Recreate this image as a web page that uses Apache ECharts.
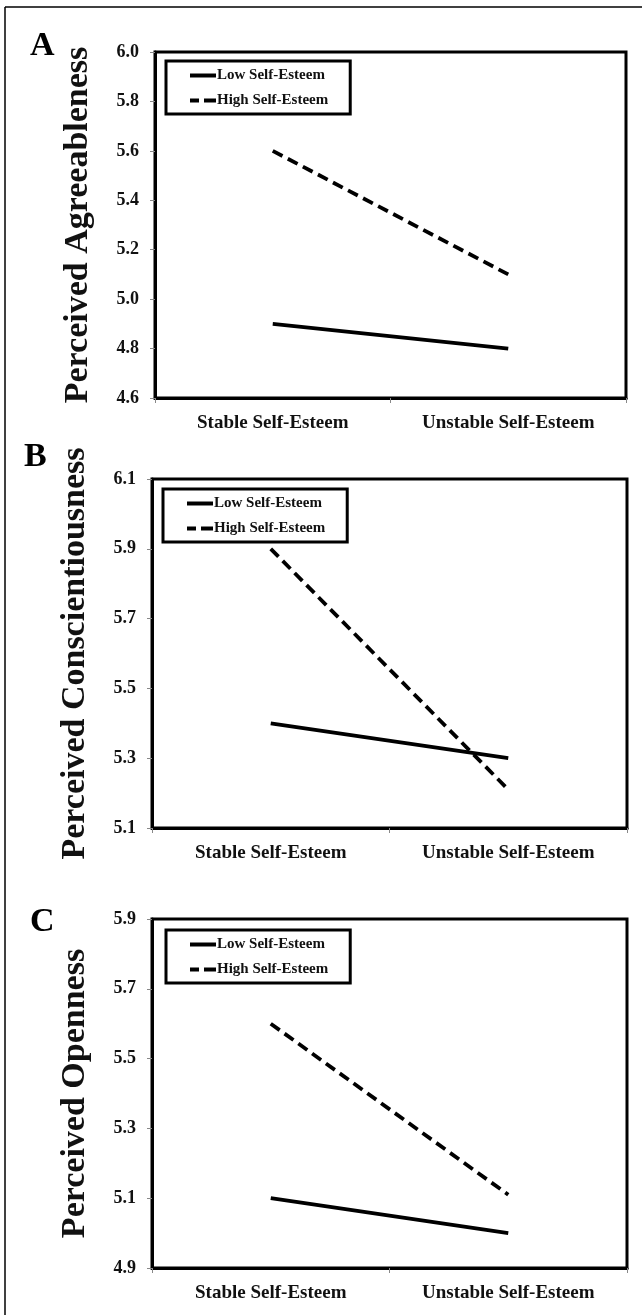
<!DOCTYPE html>
<html>
<head>
<meta charset="utf-8">
<script src="https://cdn.jsdelivr.net/npm/echarts@6/dist/echarts.min.js"></script>
<style>
html,body{margin:0;padding:0;background:#fff;}
#chart{width:642px;height:1315px;}
</style>
</head>
<body>
<div id="chart"></div>
<script>
var categories = ['Stable Self-Esteem', 'Unstable Self-Esteem'];
var seriesNames = ['Low Self-Esteem', 'High Self-Esteem'];
var panelLetters = ['A', 'B', 'C'];
var axisTitles = ['Perceived Agreeableness', 'Perceived Conscientiousness', 'Perceived Openness'];
var agreeLow = [4.9, 4.8];
var agreeHigh = [5.6, 5.1];
var conscLow = [5.4, 5.3];
var conscHigh = [5.9, 5.21];
var openLow = [5.1, 5.0];
var openHigh = [5.6, 5.11];
var yMins = [4.6, 5.1, 4.9];
var yMaxs = [6.0, 6.1, 5.9];
var yIntervals = [0.2, 0.2, 0.2];

var FONT = '"Liberation Serif", "Times New Roman", serif';
var ICON_SOLID = 'path://M0,0L26,0L26,4L0,4Z';
var ICON_DASH = 'path://M0,0L9,0L9,4L0,4Z M14,0L26,0L26,4L14,4Z';
var panels = [
  {low: agreeLow, high: agreeHigh, grid: {left: 155, top: 52, width: 471, height: 346}, legend: {left: 166, top: 61}, letter: [41, 44]},
  {low: conscLow, high: conscHigh, grid: {left: 152, top: 479, width: 475, height: 349}, legend: {left: 163, top: 489}, letter: [35, 455]},
  {low: openLow, high: openHigh, grid: {left: 152, top: 919, width: 475, height: 349}, legend: {left: 166, top: 930}, letter: [41, 920]}
];

var grids = [], xAxes = [], yAxes = [], series = [], legends = [], graphics = [];
panels.forEach(function (p, i) {
  grids.push(Object.assign({show: true, borderColor: '#000', borderWidth: 3, backgroundColor: 'transparent'}, p.grid));
  xAxes.push({
    type: 'category', gridIndex: i, data: categories, boundaryGap: true,
    axisLine: {lineStyle: {color: '#000', width: 3}},
    axisTick: {show: true, length: 5, lineStyle: {color: '#888', width: 1}},
    axisLabel: {color: '#111', fontFamily: FONT, fontWeight: 'bold', fontSize: 19, margin: 16}
  });
  yAxes.push({
    type: 'value', gridIndex: i, min: yMins[i], max: yMaxs[i], interval: yIntervals[i],
    name: axisTitles[i], nameLocation: 'middle', nameGap: 60,
    nameTextStyle: {color: '#111', fontFamily: FONT, fontWeight: 'bold', fontSize: 34},
    axisLine: {show: true, lineStyle: {color: '#000', width: 3}},
    axisTick: {show: true, length: 5, lineStyle: {color: '#888', width: 1}},
    splitLine: {show: false},
    axisLabel: {color: '#111', fontFamily: FONT, fontWeight: 'bold', fontSize: 18, margin: 16,
      formatter: function (v) { return Number(v).toFixed(1); }}
  });
  series.push({
    name: seriesNames[0], type: 'line', xAxisIndex: i, yAxisIndex: i, data: p.low,
    symbol: 'none', lineStyle: {color: '#000', width: 3.8, type: 'solid'}, itemStyle: {color: '#000'}
  });
  series.push({
    name: seriesNames[1], type: 'line', xAxisIndex: i, yAxisIndex: i, data: p.high,
    symbol: 'none', lineStyle: {color: '#000', width: 3.8, type: [11, 6]}, itemStyle: {color: '#000'}
  });
  legends.push({
    data: [{name: seriesNames[0], icon: ICON_SOLID}, {name: seriesNames[1], icon: ICON_DASH}],
    orient: 'vertical', left: p.legend.left, top: p.legend.top,
    borderColor: '#000', borderWidth: 3, padding: [7, 22, 6, 24], itemGap: 10,
    itemWidth: 26, itemHeight: 4, selectedMode: false,
    itemStyle: {color: '#000', borderWidth: 0},
    textStyle: {color: '#111', fontFamily: FONT, fontWeight: 'bold', fontSize: 15, padding: [0, 0, 0, -4]}
  });
  graphics.push({
    type: 'text', left: p.letter[0] - 11, top: p.letter[1] - 15,
    style: {text: panelLetters[i], fontFamily: FONT, fontWeight: 'bold', fontSize: 34, fill: '#000'}
  });
});
graphics.push({type: 'line', shape: {x1: 5, y1: 7, x2: 642, y2: 7}, style: {stroke: '#000', lineWidth: 1.5}});
graphics.push({type: 'line', shape: {x1: 5, y1: 7, x2: 5, y2: 1315}, style: {stroke: '#000', lineWidth: 1.5}});

var chart = echarts.init(document.getElementById('chart'), null, {renderer: 'canvas'});
chart.setOption({
  animation: false,
  backgroundColor: '#fff',
  grid: grids, xAxis: xAxes, yAxis: yAxes, series: series, legend: legends, graphic: graphics
});
</script>
</body>
</html>
